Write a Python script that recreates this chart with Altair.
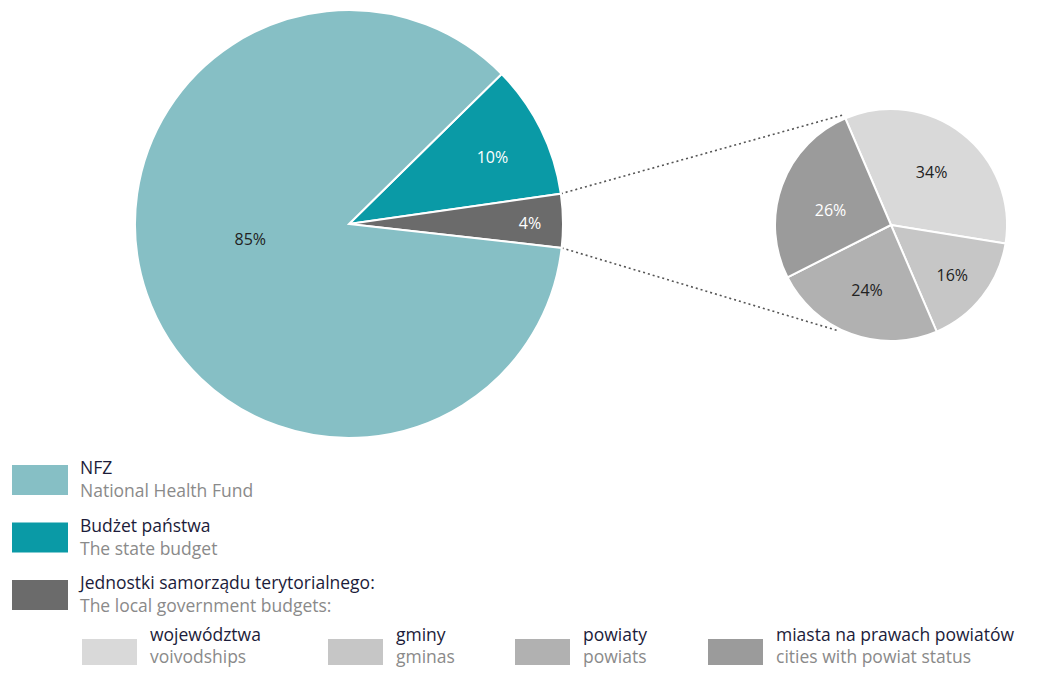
import math
import altair as alt
import pandas as pd

# ---- data ----
main_keys = ["budzet", "jst", "nfz"]
main_values = [10, 4, 85]
main_labels = ["10%", "4%", "85%"]
main_colors = ["#0a9aa6", "#6b6b6b", "#86bfc5"]
main_label_colors = ["white", "white", "#222222"]

sub_keys = ["woj", "gminy", "powiaty", "miasta"]
sub_values = [34, 16, 24, 26]
sub_labels = ["34%", "16%", "24%", "26%"]
sub_colors = ["#d9d9d9", "#c6c6c6", "#b1b1b1", "#9b9b9b"]
sub_label_colors = ["#222222", "#222222", "#222222", "white"]

legend_titles = ["NFZ", "Budżet państwa", "Jednostki samorządu terytorialnego:"]
legend_subtitles = ["National Health Fund", "The state budget", "The local government budgets:"]
sub_legend_titles = ["województwa", "gminy", "powiaty", "miasta na prawach powiatów"]
sub_legend_subtitles = ["voivodships", "gminas", "powiats", "cities with powiat status"]

# ---- layout ----
W, H = 1032, 659
FONT = "Open Sans"
LFS = 17.5
MC = (341, 216); MR = 214
SC = (883, 217); SR = 116
main_start = math.radians(45.5)
sub_start = math.radians(336.8)
main_label_r = [158, 181, 100]
main_label_dtheta = [1.5, 1.0, 10.0]     # degrees, nudges of label placement
sub_label_r = [66, 80, 70, 62]
sub_label_dtheta = [0.0, 2.0, 0.0, -7.0]


def pie(keys, values, labels, colors, label_colors, label_r, dtheta, center, r, start):
    total = sum(values)
    df = pd.DataFrame({"key": keys, "v": values, "label": labels, "col": colors,
                       "lc": label_colors, "order": list(range(len(keys))), "lr": label_r,
                       "dt": [d / 360 * total for d in dtheta]})
    sc = alt.Scale(domain=[0, total], range=[start, start + 2 * math.pi])
    stacked = alt.Chart(df).transform_stack(
        stack="v", groupby=[], as_=["s0", "s1"], sort=[alt.SortField("order")]
    ).transform_calculate(mid="(datum.s0 + datum.s1) / 2 + datum.dt")
    arcs = stacked.mark_arc(radius=r, stroke="white", strokeWidth=2).encode(
        theta=alt.Theta("s0:Q", stack=None, scale=sc), theta2="s1:Q",
        x=alt.value(center[0]), y=alt.value(center[1]),
        color=alt.Color("col:N", scale=None))
    texts = stacked.mark_text(font=FONT, fontSize=16).encode(
        theta=alt.Theta("mid:Q", stack=None, scale=sc),
        radius=alt.Radius("lr:Q", scale=None, stack=None),
        x=alt.value(center[0]), y=alt.value(center[1]),
        text="label:N", color=alt.Color("lc:N", scale=None))
    return alt.layer(arcs, texts)


main_pie = pie(main_keys, main_values, main_labels, main_colors, main_label_colors,
               main_label_r, main_label_dtheta, MC, MR, main_start)
sub_pie = pie(sub_keys, sub_values, sub_labels, sub_colors, sub_label_colors,
              sub_label_r, sub_label_dtheta, SC, SR, sub_start)

# connector lines: edges of the "jst" slice to the small pie
tot = sum(main_values)
a0 = main_start + 2 * math.pi * main_values[0] / tot
a1 = a0 + 2 * math.pi * main_values[1] / tot
p_up = (MC[0] + MR * math.sin(a0), MC[1] - MR * math.cos(a0))
p_dn = (MC[0] + MR * math.sin(a1), MC[1] - MR * math.cos(a1))
q_up_a = sub_start
q_dn_a = math.radians(206)
q_up = (SC[0] + (SR + 4) * math.sin(q_up_a), SC[1] - (SR + 4) * math.cos(q_up_a))
q_dn = (SC[0] + (SR + 2) * math.sin(q_dn_a), SC[1] - (SR + 2) * math.cos(q_dn_a))
lines_df = pd.DataFrame({"x": [p_up[0], p_dn[0]], "y": [p_up[1], p_dn[1]],
                         "x2": [q_up[0], q_dn[0]], "y2": [q_up[1], q_dn[1]]})
lines = alt.Chart(lines_df).mark_rule(color="#555555", strokeWidth=1.6,
                                      strokeDash=[2, 3]).encode(
    x=alt.X("x:Q", scale=None), y=alt.Y("y:Q", scale=None),
    x2="x2:Q", y2="y2:Q")

# ---- legend ----
sw_rows = []
tx_rows = []
top0, step = 457, 57.5
legend_color_idx = [2, 0, 1]
for i, (t, s) in enumerate(zip(legend_titles, legend_subtitles)):
    y0 = top0 + i * step
    sw_rows.append({"x": 4, "x2": 60, "y": y0, "y2": y0 + 30, "c": main_colors[legend_color_idx[i]]})
    tx_rows.append({"x": 72, "y": y0 + 4, "t": t, "c": "#1c1c3a"})
    tx_rows.append({"x": 72, "y": y0 + 27, "t": s, "c": "#8a8a8a"})
sub_x = [74, 320, 507, 700]
for i, (t, s) in enumerate(zip(sub_legend_titles, sub_legend_subtitles)):
    x0 = sub_x[i]
    sw_rows.append({"x": x0, "x2": x0 + 55, "y": 631, "y2": 657, "c": sub_colors[i]})
    tx_rows.append({"x": x0 + 68, "y": 628, "t": t, "c": "#1c1c3a"})
    tx_rows.append({"x": x0 + 68, "y": 650, "t": s, "c": "#8a8a8a"})

swatches = alt.Chart(pd.DataFrame(sw_rows)).mark_rect().encode(
    x=alt.X("x:Q", scale=None), x2="x2:Q",
    y=alt.Y("y:Q", scale=None), y2="y2:Q",
    color=alt.Color("c:N", scale=None))
leg_text = alt.Chart(pd.DataFrame(tx_rows)).mark_text(
    font=FONT, fontSize=LFS, align="left", baseline="middle").encode(
    x=alt.X("x:Q", scale=None), y=alt.Y("y:Q", scale=None),
    text="t:N", color=alt.Color("c:N", scale=None))

chart = alt.layer(lines, main_pie, sub_pie, swatches, leg_text).resolve_scale(
    theta="independent"
).properties(
    width=W, height=H, padding=0, autosize="none", background="white"
).configure_view(stroke=None)

chart.save("out.html", embed_options={"renderer": "svg", "actions": False})
